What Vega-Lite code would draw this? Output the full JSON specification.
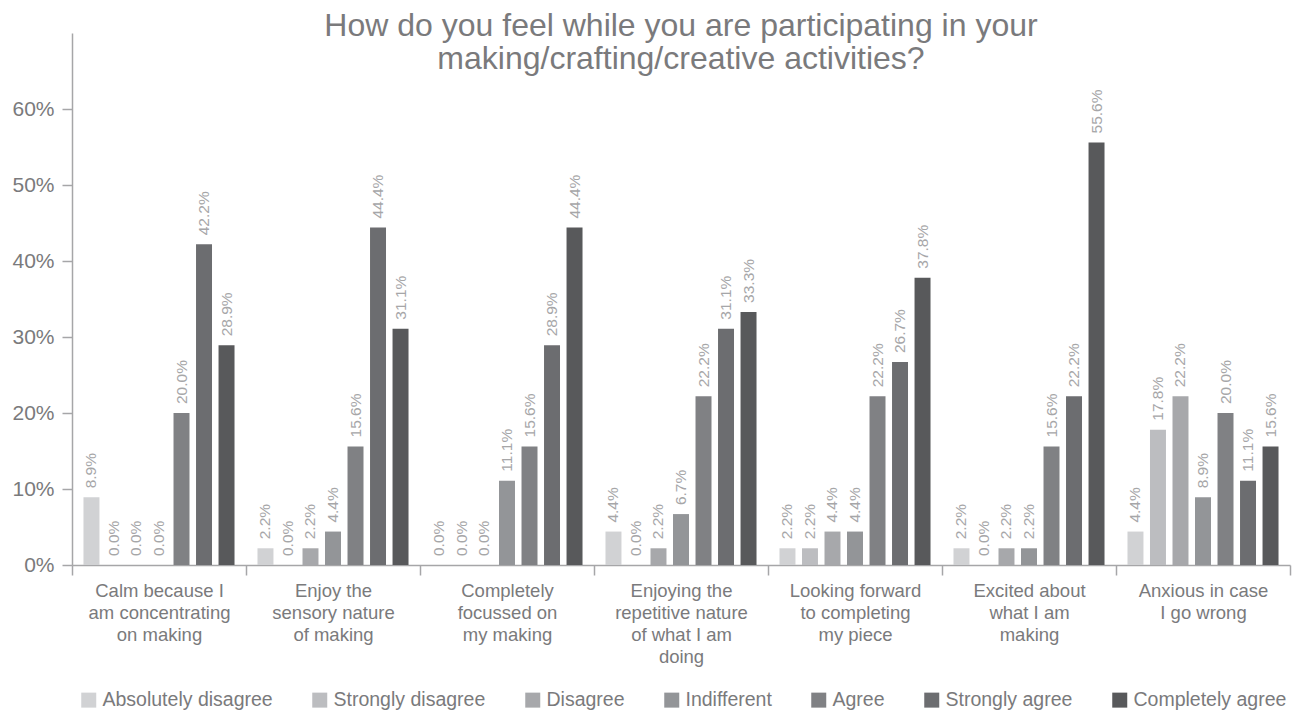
{
  "$schema": "https://vega.github.io/schema/vega-lite/v6.json",
  "width": 1218,
  "height": 532,
  "autosize": {"type": "none"},
  "padding": {"top": 33, "left": 72, "right": 6, "bottom": 146},
  "background": "white",
  "config": {
    "font": "Liberation Sans",
    "view": {"stroke": null},
    "axis": {"grid": false}
  },
  "title": {
    "text": ["How do you feel while you are participating in your", "making/crafting/creative activities?"],
    "fontSize": 32,
    "fontWeight": "normal",
    "color": "#7a7a7c",
    "anchor": "middle",
    "frame": "group",
    "offset": -43,
    "lineHeight": 33
  },
  "data": {
    "values": [
      {"item": "Calm because I\nam concentrating\non making", "resp": "Absolutely disagree", "v": 0.089},
      {"item": "Calm because I\nam concentrating\non making", "resp": "Strongly disagree", "v": 0.0},
      {"item": "Calm because I\nam concentrating\non making", "resp": "Disagree", "v": 0.0},
      {"item": "Calm because I\nam concentrating\non making", "resp": "Indifferent", "v": 0.0},
      {"item": "Calm because I\nam concentrating\non making", "resp": "Agree", "v": 0.2},
      {"item": "Calm because I\nam concentrating\non making", "resp": "Strongly agree", "v": 0.422},
      {"item": "Calm because I\nam concentrating\non making", "resp": "Completely agree", "v": 0.289},
      {"item": "Enjoy the\nsensory nature\nof making", "resp": "Absolutely disagree", "v": 0.022},
      {"item": "Enjoy the\nsensory nature\nof making", "resp": "Strongly disagree", "v": 0.0},
      {"item": "Enjoy the\nsensory nature\nof making", "resp": "Disagree", "v": 0.022},
      {"item": "Enjoy the\nsensory nature\nof making", "resp": "Indifferent", "v": 0.044},
      {"item": "Enjoy the\nsensory nature\nof making", "resp": "Agree", "v": 0.156},
      {"item": "Enjoy the\nsensory nature\nof making", "resp": "Strongly agree", "v": 0.444},
      {"item": "Enjoy the\nsensory nature\nof making", "resp": "Completely agree", "v": 0.311},
      {"item": "Completely\nfocussed on\nmy making", "resp": "Absolutely disagree", "v": 0.0},
      {"item": "Completely\nfocussed on\nmy making", "resp": "Strongly disagree", "v": 0.0},
      {"item": "Completely\nfocussed on\nmy making", "resp": "Disagree", "v": 0.0},
      {"item": "Completely\nfocussed on\nmy making", "resp": "Indifferent", "v": 0.111},
      {"item": "Completely\nfocussed on\nmy making", "resp": "Agree", "v": 0.156},
      {"item": "Completely\nfocussed on\nmy making", "resp": "Strongly agree", "v": 0.289},
      {"item": "Completely\nfocussed on\nmy making", "resp": "Completely agree", "v": 0.444},
      {"item": "Enjoying the\nrepetitive nature\nof what I am\ndoing", "resp": "Absolutely disagree", "v": 0.044},
      {"item": "Enjoying the\nrepetitive nature\nof what I am\ndoing", "resp": "Strongly disagree", "v": 0.0},
      {"item": "Enjoying the\nrepetitive nature\nof what I am\ndoing", "resp": "Disagree", "v": 0.022},
      {"item": "Enjoying the\nrepetitive nature\nof what I am\ndoing", "resp": "Indifferent", "v": 0.067},
      {"item": "Enjoying the\nrepetitive nature\nof what I am\ndoing", "resp": "Agree", "v": 0.222},
      {"item": "Enjoying the\nrepetitive nature\nof what I am\ndoing", "resp": "Strongly agree", "v": 0.311},
      {"item": "Enjoying the\nrepetitive nature\nof what I am\ndoing", "resp": "Completely agree", "v": 0.333},
      {"item": "Looking forward\nto completing\nmy piece", "resp": "Absolutely disagree", "v": 0.022},
      {"item": "Looking forward\nto completing\nmy piece", "resp": "Strongly disagree", "v": 0.022},
      {"item": "Looking forward\nto completing\nmy piece", "resp": "Disagree", "v": 0.044},
      {"item": "Looking forward\nto completing\nmy piece", "resp": "Indifferent", "v": 0.044},
      {"item": "Looking forward\nto completing\nmy piece", "resp": "Agree", "v": 0.222},
      {"item": "Looking forward\nto completing\nmy piece", "resp": "Strongly agree", "v": 0.267},
      {"item": "Looking forward\nto completing\nmy piece", "resp": "Completely agree", "v": 0.378},
      {"item": "Excited about\nwhat I am\nmaking", "resp": "Absolutely disagree", "v": 0.022},
      {"item": "Excited about\nwhat I am\nmaking", "resp": "Strongly disagree", "v": 0.0},
      {"item": "Excited about\nwhat I am\nmaking", "resp": "Disagree", "v": 0.022},
      {"item": "Excited about\nwhat I am\nmaking", "resp": "Indifferent", "v": 0.022},
      {"item": "Excited about\nwhat I am\nmaking", "resp": "Agree", "v": 0.156},
      {"item": "Excited about\nwhat I am\nmaking", "resp": "Strongly agree", "v": 0.222},
      {"item": "Excited about\nwhat I am\nmaking", "resp": "Completely agree", "v": 0.556},
      {"item": "Anxious in case\nI go wrong", "resp": "Absolutely disagree", "v": 0.044},
      {"item": "Anxious in case\nI go wrong", "resp": "Strongly disagree", "v": 0.178},
      {"item": "Anxious in case\nI go wrong", "resp": "Disagree", "v": 0.222},
      {"item": "Anxious in case\nI go wrong", "resp": "Indifferent", "v": 0.089},
      {"item": "Anxious in case\nI go wrong", "resp": "Agree", "v": 0.2},
      {"item": "Anxious in case\nI go wrong", "resp": "Strongly agree", "v": 0.111},
      {"item": "Anxious in case\nI go wrong", "resp": "Completely agree", "v": 0.156}
    ]
  },
  "encoding": {
    "x": {
      "field": "item",
      "type": "nominal",
      "sort": null,
      "scale": {"paddingInner": 0, "paddingOuter": 0},
      "axis": {
        "title": null,
        "labelAngle": 0,
        "labelExpr": "split(datum.label, '\\n')",
        "labelFontSize": 18.5,
        "labelColor": "#7a7a7c",
        "labelLineHeight": 22,
        "labelPadding": 6,
        "labelLimit": 0,
        "tickBand": "extent",
        "tickSize": 10,
        "tickColor": "#a6a6a8",
        "tickWidth": 1.5,
        "domainColor": "#a6a6a8",
        "domainWidth": 1.5
      }
    },
    "xOffset": {
      "field": "resp",
      "type": "nominal",
      "sort": ["Absolutely disagree", "Strongly disagree", "Disagree", "Indifferent", "Agree", "Strongly agree", "Completely agree"],
      "scale": {"paddingInner": 0.29, "paddingOuter": 0.51}
    },
    "y": {
      "field": "v",
      "type": "quantitative",
      "scale": {"domain": [0, 0.7], "nice": false},
      "axis": {
        "title": null,
        "values": [0, 0.1, 0.2, 0.3, 0.4, 0.5, 0.6],
        "format": ".0%",
        "labelFontSize": 21,
        "labelColor": "#7a7a7c",
        "labelPadding": 8,
        "tickSize": 10,
        "tickColor": "#a6a6a8",
        "tickWidth": 1.5,
        "domainColor": "#a6a6a8",
        "domainWidth": 1.5
      }
    }
  },
  "layer": [
    {
      "mark": {"type": "bar"},
      "encoding": {
        "color": {
          "field": "resp",
          "type": "nominal",
          "sort": ["Absolutely disagree", "Strongly disagree", "Disagree", "Indifferent", "Agree", "Strongly agree", "Completely agree"],
          "scale": {
            "domain": ["Absolutely disagree", "Strongly disagree", "Disagree", "Indifferent", "Agree", "Strongly agree", "Completely agree"],
            "range": ["#d1d2d4", "#bcbdc0", "#a7a8ab", "#939598", "#808184", "#6c6d70", "#58595b"]
          },
          "legend": {
            "title": null,
            "orient": "none",
            "direction": "horizontal",
            "columns": 7,
            "legendX": 7,
            "legendY": 657,
            "padding": 0,
            "symbolType": "square",
            "symbolSize": 225,
            "symbolStrokeWidth": 0,
            "labelFontSize": 19.5,
            "labelColor": "#7a7a7c",
            "labelOffset": 4,
            "columnPadding": 37,
            "labelLimit": 0
          }
        }
      }
    },
    {
      "mark": {"type": "text", "angle": 270, "align": "left", "baseline": "middle", "dx": 9, "fontSize": 15.5, "color": "#a6a6a8"},
      "encoding": {
        "text": {"field": "v", "type": "quantitative", "format": ".1%"}
      }
    }
  ]
}
